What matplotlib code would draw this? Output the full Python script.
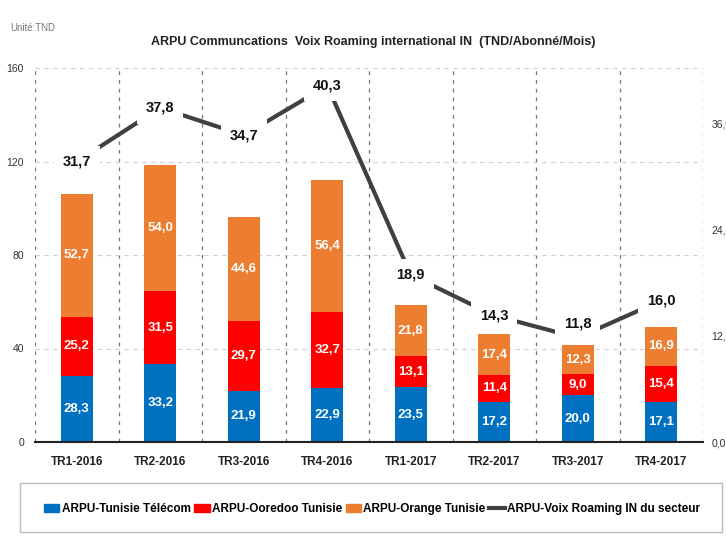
import matplotlib.pyplot as plt
import numpy as np
from matplotlib.patches import Patch, Rectangle
from matplotlib.lines import Line2D

plt.rcParams['font.family'] = ['Liberation Sans', 'DejaVu Sans']

# --- data ---
quarters = ["TR1-2016", "TR2-2016", "TR3-2016", "TR4-2016",
            "TR1-2017", "TR2-2017", "TR3-2017", "TR4-2017"]
tunisie_telecom = [28.3, 33.2, 21.9, 22.9, 23.5, 17.2, 20.0, 17.1]
ooredoo = [25.2, 31.5, 29.7, 32.7, 13.1, 11.4, 9.0, 15.4]
orange = [52.7, 54.0, 44.6, 56.4, 21.8, 17.4, 12.3, 16.9]
secteur = [31.7, 37.8, 34.7, 40.3, 18.9, 14.3, 11.8, 16.0]
left_ticks = [0, 40, 80, 120, 160]
right_ticks = [0, 12, 24, 36]

BLUE, RED, ORANGE, GREY = "#0070C0", "#FF0000", "#ED7D31", "#404040"


def fmt(v):
    return f"{v:.1f}".replace(".", ",")


fig = plt.figure(figsize=(7.26, 5.45), dpi=100)
ax = fig.add_axes([35 / 726, 1 - 442 / 545, 668 / 726, 374 / 545])
x = np.arange(len(quarters))
w = 0.38

# stacked bars
bottom = np.zeros(len(quarters))
for vals, col in [(tunisie_telecom, BLUE), (ooredoo, RED), (orange, ORANGE)]:
    bars = ax.bar(x, vals, w, bottom=bottom, color=col, zorder=3)
    for b, v, b0 in zip(bars, vals, bottom):
        ax.text(b.get_x() + b.get_width() / 2, b0 + v / 2, fmt(v),
                ha="center", va="center", color="white",
                fontsize=9.5, fontweight="bold", zorder=4)
    bottom += np.array(vals)

ax.set_xlim(-0.5, len(quarters) - 0.5)
ax.set_ylim(0, 160)
ax.set_yticks(left_ticks)
ax.set_xticks(x)
ax.set_xticklabels(quarters, fontsize=8.5, fontweight="bold", color="#222222")
ax.tick_params(axis="y", labelsize=7.5, colors="#333333", length=0, pad=8)
ax.tick_params(axis="x", length=0, pad=10)

# gridlines
ax.set_xticks(np.arange(-0.5, len(quarters)), minor=True)
ax.tick_params(axis="x", which="minor", length=0)
ax.grid(axis="x", which="minor", color="#777777", linestyle=(0, (3, 4)), lw=0.9, zorder=1)
ax.grid(axis="y", which="major", color="#d0d0d0", linestyle=(0, (4, 4)), lw=0.8, zorder=1)
for s in ["left", "right", "top"]:
    ax.spines[s].set_visible(False)
ax.spines["bottom"].set_color("#222222")
ax.spines["bottom"].set_linewidth(1.5)
ax.spines["bottom"].set_zorder(5)

# secondary axis line
ax2 = ax.twinx()
ax2.set_ylim(0, 42.3)
ax2.set_yticks(right_ticks)
ax2.set_yticklabels([fmt(t) for t in right_ticks])
ax2.tick_params(axis="y", labelsize=7.5, colors="#333333", length=0, pad=6)
for s in ax2.spines.values():
    s.set_visible(False)
ax2.plot(x, secteur, color=GREY, lw=3, zorder=3, solid_capstyle="butt")
for i, v in enumerate(secteur):
    dy = 10 if v == 11.8 else 0
    ax2.annotate(fmt(v), (i, v), xytext=(0, dy), textcoords="offset points",
                 ha="center", va="center", fontsize=10.5, fontweight="bold",
                 color="#111111", zorder=6,
                 bbox=dict(boxstyle="square,pad=0.6", fc="white", ec="none"))

# titles
fig.text(10 / 726, 1 - 28 / 545, "Unité:TND", fontsize=7, color="#777777", va="center")
fig.text(373 / 726, 1 - 42 / 545,
         "ARPU Communcations  Voix Roaming international IN  (TND/Abonné/Mois)",
         ha="center", va="center", fontsize=9, fontweight="bold", color="#222222")

# legend
fig.patches.append(Rectangle((20 / 726, 1 - 532 / 545), 702 / 726, 49 / 545,
                             transform=fig.transFigure, fill=False,
                             ec="#bbbbbb", lw=1))
handles = [Patch(color=BLUE), Patch(color=RED), Patch(color=ORANGE),
           Line2D([], [], color=GREY, lw=3)]
labels = ["ARPU-Tunisie Télécom", "ARPU-Ooredoo Tunisie", "ARPU-Orange Tunisie",
          "ARPU-Voix Roaming IN du secteur"]
fig.legend(handles, labels, loc="center", bbox_to_anchor=(372 / 726, 1 - 509 / 545),
           ncol=4, frameon=False, handlelength=1.3, handletextpad=0.2,
           columnspacing=0.3, prop=dict(size=8.5, weight="bold"))

fig.savefig("out.png", dpi=100)
